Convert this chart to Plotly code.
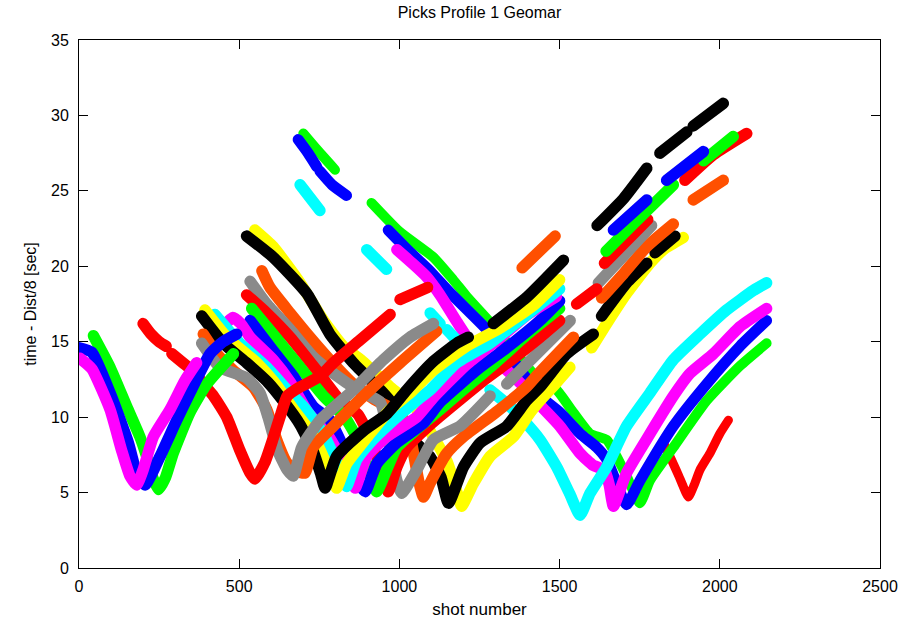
import plotly.graph_objects as go

# ---- data: (shot number, time - Dist/8) per station, None = gap ----
red3_shot = [1824, 1840, 1855, 1872, 1886, 1902, 1920, 1938, 1969, 2000, 2027]
red3_time = [8.3, 7.6, 6.9, 6.1, 5.4, 4.7, 5.5, 6.5, 7.6, 8.9, 9.8]

green3_shot = [700, 740, 799, None, 913, 1000, 1106, 1168, 1210, 1283, 1350, 1439, 1491, 1543, 1595, 1647, 1678, 1709, 1751, 1782, 1855, 1959, 2063, 2146]
green3_time = [28.8, 27.8, 26.4, None, 24.2, 22.3, 20.6, 19.1, 18.0, 16.3, 14.6, 12.4, 11.8, 10.3, 8.9, 8.5, 7.4, 6.1, 4.3, 5.8, 8.0, 11.1, 13.4, 14.9]

blue3_shot = [684, 715, 742, None, 752, 790, 835, None, 965, 1030, 1090, 1160, 1273, 1350, 1439, 1501, 1564, 1616, 1647, 1678, 1709, 1751, 1855, 1959, 2063, 2146]
blue3_time = [28.4, 27.5, 26.6, None, 26.3, 25.4, 24.7, None, 22.4, 21.0, 19.8, 18.2, 15.8, 13.9, 11.4, 10.3, 8.9, 8.0, 7.2, 5.6, 4.2, 5.8, 9.4, 12.2, 14.7, 16.4]

magenta3_shot = [992, 1040, 1085, 1127, 1180, 1231, 1283, 1324, 1380, 1439, 1501, 1564, 1605, 1640, 1655, 1668, 1709, 1782, 1855, 1907, 1980, 2063, 2146]
magenta3_time = [21.1, 20.2, 19.3, 18.1, 16.3, 14.7, 13.8, 13.3, 12.2, 10.8, 9.4, 7.6, 6.8, 6.5, 5.5, 4.1, 6.3, 8.9, 11.4, 12.9, 14.2, 16.0, 17.2]

cyan2_shot = [690, 752, None, 898, 960, None, 1096, 1127, None, 1148, 1179, None, 1283, 1340, 1387, 1439, 1491, 1532, 1564, 1595, 1647, 1709, 1782, 1855, 1938, 2021, 2105, 2146]
cyan2_time = [25.4, 23.7, None, 21.1, 19.8, None, 16.9, 16.2, None, 15.8, 15.1, None, 11.8, 10.8, 9.8, 8.5, 6.7, 4.9, 3.5, 4.95, 6.7, 9.4, 11.6, 13.8, 15.5, 17.1, 18.4, 18.9]

yellow2_shot = [549, 606, 690, 763, 825, 880, 971, 1050, 1106, 1150, 1180, 1194, 1231, 1283, 1356, 1408, 1439, 1491, 1532, None, 1600, 1647, 1709, 1782, 1824, 1886]
yellow2_time = [22.4, 21.3, 18.9, 16.4, 14.7, 13.8, 12.0, 10.6, 8.7, 7.0, 5.0, 4.1, 5.6, 7.4, 8.7, 10.3, 11.1, 12.3, 13.3, None, 14.6, 16.2, 18.2, 20.2, 21.1, 21.9]

black2_shot = [523, 606, 711, 783, 856, 950, 992, 1033, 1095, 1130, 1153, 1200, 1252, 1335, 1397, 1439, 1522, 1605, None, 1631, 1709, 1772, None, 1798, 1860]
black2_time = [22.0, 20.6, 18.2, 15.5, 13.6, 11.6, 10.5, 8.7, 7.4, 6.0, 4.3, 6.7, 8.3, 9.4, 11.1, 12.0, 14.2, 15.5, None, 16.7, 18.9, 20.2, None, 20.9, 22.0]

orange2_shot = [571, 596, 659, 721, 783, 856, 920, 990, 1025, 1045, 1060, 1075, 1095, 1148, 1200, 1300, 1397, 1439, 1543, None, 1631, 1699, 1772, 1855, None, 1917, 2011]
orange2_time = [19.7, 18.6, 16.9, 15.3, 13.8, 12.2, 11.2, 10.4, 9.5, 7.5, 5.8, 4.7, 5.6, 7.6, 8.7, 10.3, 12.0, 13.0, 15.3, None, 17.9, 19.5, 21.3, 22.8, None, 24.4, 25.7]

gray2_shot = [534, 586, 659, 731, 794, 870, 940, 971, 992, 1007, 1054, 1106, 1189, 1283, None, 1335, 1439, 1533, None, 1621, 1700, 1787]
gray2_time = [19.0, 17.5, 15.8, 14.0, 12.9, 11.8, 11.0, 8.0, 5.8, 4.95, 6.5, 8.5, 9.4, 11.4, None, 12.2, 14.4, 16.4, None, 18.9, 20.7, 22.7]

red2_shot = [523, 586, 659, 742, 815, 870, 905, 940, 965, 992, 1023, 1096, 1180, 1273, 1350, 1439, 1500, None, 1553, 1616, None, 1640, 1700, 1775, None, 1891, 1980, 2084]
red2_time = [18.1, 16.9, 15.3, 13.1, 11.1, 10.2, 8.8, 6.7, 5.06, 6.7, 8.0, 9.5, 11.0, 12.6, 13.8, 15.3, 16.4, None, 17.5, 18.5, None, 20.2, 21.5, 23.1, None, 25.7, 27.4, 28.8]

green2_shot = [539, 606, 679, 763, 830, 870, 905, 929, 960, 992, 1054, 1127, 1210, 1300, 1400, 1500, None, 1645, 1730, 1855, None, 1949, 2042]
green2_time = [17.2, 15.5, 13.6, 11.4, 10.0, 8.5, 6.5, 5.06, 6.5, 8.0, 9.2, 10.5, 12.0, 13.6, 15.5, 17.2, None, 21.0, 22.8, 25.4, None, 27.0, 28.6]

blue2_shot = [534, 606, 669, 731, 783, 825, 867, 893, 929, 992, 1075, 1127, 1252, 1335, 1439, 1500, None, 1668, 1772, None, 1834, 1949]
blue2_time = [16.4, 14.4, 12.7, 10.7, 9.8, 8.0, 5.8, 5.06, 6.9, 8.3, 9.6, 11.0, 13.3, 14.6, 16.4, 17.7, None, 22.4, 24.4, None, 25.7, 27.6]

magenta2_shot = [450, 480, 505, 534, 606, 660, 715, 780, 830, 850, 862, 898, 960, 1054, 1106, 1210, 1300, 1400, 1490]
magenta2_time = [16.0, 16.6, 16.2, 15.3, 13.8, 12.3, 10.3, 8.7, 6.8, 5.8, 5.3, 7.4, 8.7, 10.0, 11.3, 13.5, 15.0, 16.8, 18.0]

cyan1_shot = [424, 502, 586, 650, 700, 760, 800, 825, 835, 867, 908, 971, 1054, 1096, 1179, 1283, 1387, 1500]
cyan1_time = [16.8, 14.9, 13.3, 11.8, 10.7, 9.0, 7.2, 5.9, 5.4, 7.2, 8.3, 9.6, 11.1, 11.8, 13.6, 14.9, 16.6, 18.5]

yellow1_shot = [393, 461, 555, 610, 670, 730, 770, 795, 804, 835, 908, 971, 1033, 1106, 1210, 1314, 1418, 1500]
yellow1_time = [17.1, 15.3, 13.6, 12.3, 10.5, 8.8, 7.0, 5.8, 5.3, 6.9, 8.9, 10.5, 11.6, 13.1, 14.7, 15.9, 17.4, 19.1]

black1_shot = [383, 450, 523, 590, 640, 690, 730, 755, 768, 804, 888, 960, 1023, 1106, 1179, 1215, None, 1293, 1400, 1512, None, 1617, 1700, 1772, None, 1813, 1897, None, 1917, 2011]
black1_time = [16.7, 14.9, 13.6, 12.3, 11.0, 9.5, 7.8, 6.2, 5.3, 7.4, 9.1, 10.2, 11.8, 13.7, 14.9, 15.3, None, 16.2, 18.0, 20.4, None, 22.7, 24.5, 26.5, None, 27.5, 28.9, None, 29.3, 30.8]

orange1_shot = [388, 430, 482, 544, 586, 617, 648, 680, 705, 731, 794, 898, 1002, 1116, None, 1383, 1486]
orange1_time = [15.5, 14.2, 13.1, 12.0, 10.5, 8.5, 7.0, 6.4, 6.3, 8.0, 9.4, 11.6, 13.6, 15.7, None, 19.9, 22.0]

gray1_shot = [383, 440, 523, 565, 590, 620, 650, 669, 695, 752, 846, 950, 1033, 1106]
gray1_time = [14.9, 13.3, 12.6, 11.6, 10.0, 7.8, 6.5, 6.1, 8.0, 9.8, 11.6, 13.8, 15.3, 16.2]

red1_shot = [200, 225, 250, 272, None, 290, 330, 360, 388, 420, 461, 502, 534, 549, 580, 606, 630, 650, 690, 752, 794, 877, 971, None, 1002, 1088]
red1_time = [16.2, 15.5, 15.0, 14.7, None, 14.2, 13.5, 13.0, 12.2, 11.4, 10.0, 7.8, 6.3, 5.9, 7.0, 8.6, 10.2, 11.4, 12.0, 12.7, 13.6, 15.1, 16.8, None, 17.8, 18.6]

green1_shot = [45, 97, 149, 190, 211, 230, 248, 270, 294, 346, 399, 482]
green1_time = [15.4, 13.3, 10.7, 8.7, 7.4, 6.0, 5.2, 6.0, 7.6, 10.3, 12.2, 14.2]

blue1_shot = [0, 40, 97, 154, 180, 206, 253, 305, 346, 409, 450, 492]
blue1_time = [14.6, 14.3, 11.6, 8.3, 6.3, 5.5, 7.4, 9.8, 11.6, 14.2, 15.0, 15.5]

magenta1_shot = [3, 40, 97, 133, 159, 180, 200, 232, 284, 330, 367]
magenta1_time = [13.9, 13.2, 10.5, 7.8, 6.1, 5.5, 6.5, 8.7, 10.5, 12.4, 13.6]

x_ticks = [0, 500, 1000, 1500, 2000, 2500]
y_ticks = [0, 5, 10, 15, 20, 25, 30, 35]

RED, GREEN, BLUE, MAG, CYAN = "#ff0000", "#00ff00", "#0000ff", "#ff00ff", "#00ffff"
YEL, BLK, ORA, GRY = "#ffff00", "#000000", "#ff5000", "#8a8a8a"

series = [
    (red3_shot, red3_time, RED, 9),
    (green3_shot, green3_time, GREEN, 10),
    (blue3_shot, blue3_time, BLUE, 11),
    (magenta3_shot, magenta3_time, MAG, 11.5),
    (cyan2_shot, cyan2_time, CYAN, 11.5),
    (yellow2_shot, yellow2_time, YEL, 11.5),
    (black2_shot, black2_time, BLK, 11.5),
    (orange2_shot, orange2_time, ORA, 11.5),
    (gray2_shot, gray2_time, GRY, 11.5),
    (red2_shot, red2_time, RED, 11.5),
    (green2_shot, green2_time, GREEN, 11.5),
    (blue2_shot, blue2_time, BLUE, 11.5),
    (magenta2_shot, magenta2_time, MAG, 11.5),
    (cyan1_shot, cyan1_time, CYAN, 11.5),
    (yellow1_shot, yellow1_time, YEL, 11.5),
    (black1_shot, black1_time, BLK, 11.5),
    (orange1_shot, orange1_time, ORA, 11.5),
    (gray1_shot, gray1_time, GRY, 11.5),
    (red1_shot, red1_time, RED, 11.5),
    (green1_shot, green1_time, GREEN, 11.5),
    (blue1_shot, blue1_time, BLUE, 11.5),
    (magenta1_shot, magenta1_time, MAG, 11.5),
]

fig = go.Figure()
for xs, ys, col, w in series:
    fig.add_trace(go.Scatter(x=xs, y=ys, mode="lines",
                             line=dict(color=col, width=w, shape="spline", smoothing=0.5),
                             connectgaps=False, hoverinfo="skip", showlegend=False))

FONT = "Liberation Sans, Arial, sans-serif"
axis_common = dict(showline=True, linecolor="black", linewidth=1, mirror="ticks",
                   ticks="inside", ticklen=9, tickwidth=1, tickcolor="black",
                   showgrid=False, zeroline=False, automargin=False,
                   tickfont=dict(family=FONT, size=16, color="black"))

fig.update_layout(
    width=900, height=624, autosize=False,
    margin=dict(l=79, r=20, t=40, b=56),
    paper_bgcolor="white", plot_bgcolor="white",
    title=dict(text="Picks Profile 1 Geomar", x=(79 + 880) / 2 / 900, xanchor="center",
               y=1 - 12 / 624, yanchor="middle", yref="container",
               font=dict(family=FONT, size=16, color="black")),
    xaxis=dict(range=[0, 2500], tickvals=x_ticks, ticktext=[str(v) for v in x_ticks],
               title=dict(text="shot number", font=dict(family=FONT, size=17, color="black"), standoff=8),
               ticklabelstandoff=4, **axis_common),
    yaxis=dict(range=[0, 35], tickvals=y_ticks, ticktext=[str(v) for v in y_ticks],
               title=dict(text="time - Dist/8 [sec]", font=dict(family=FONT, size=16, color="black"), standoff=10),
               ticklabelstandoff=6, **axis_common),
)

post = """
var gd = document.getElementById('{plot_id}');
function rc(){ gd.querySelectorAll('.scatterlayer .js-line').forEach(function(p){p.style.strokeLinecap='round';p.style.strokeLinejoin='round';}); }
rc(); if (gd.on) { gd.on('plotly_afterplot', rc); }
"""
fig.write_html("out.html", post_script=post)
